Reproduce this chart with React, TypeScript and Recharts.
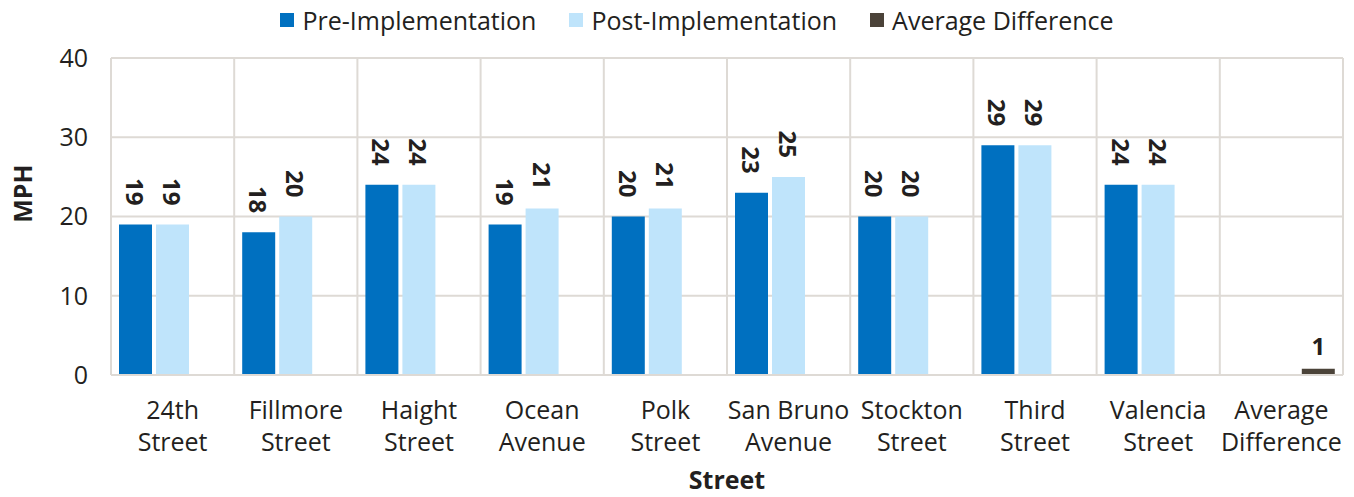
import { BarChart, Bar, XAxis, YAxis, CartesianGrid, Legend, LabelList, Label } from 'recharts';

const streets = [
  '24th Street',
  'Fillmore Street',
  'Haight Street',
  'Ocean Avenue',
  'Polk Street',
  'San Bruno Avenue',
  'Stockton Street',
  'Third Street',
  'Valencia Street',
  'Average Difference',
];
const preValues = [19, 18, 24, 19, 20, 23, 20, 29, 24, null];
const postValues = [19, 20, 24, 21, 21, 25, 20, 29, 24, null];
const avgDiffValues = [null, null, null, null, null, null, null, null, null, 0.78];
const yTicks = [0, 10, 20, 30, 40];

const seriesNames = ['Pre-Implementation', 'Post-Implementation', 'Average Difference'];

const COLORS = {
  pre: '#0070C0',
  post: '#BFE4FB',
  avg: '#4B4339',
  grid: '#DEDAD5',
  text: '#231F20',
};

const FONT = '"Open Sans", "Noto Sans", sans-serif';

const data = streets.map((name, i) => ({
  name,
  pre: preValues[i],
  post: postValues[i],
  avg: avgDiffValues[i],
}));

function StreetTick(props: any) {
  const { x, y, payload } = props;
  const words = String(payload.value).split(' ');
  const first = words.slice(0, words.length - 1).join(' ');
  const second = words[words.length - 1];
  return (
    <text x={x} y={y} textAnchor="middle" fill={COLORS.text} fontSize={25} fontFamily={FONT}>
      <tspan x={x} dy={36}>{first}</tspan>
      <tspan x={x} dy={32}>{second}</tspan>
    </text>
  );
}

function RotatedLabel(props: any) {
  const { x, y, width, value } = props;
  if (value == null) return null;
  const cx = x + width / 2;
  const cy = y - 19;
  return (
    <text
      x={cx}
      y={cy}
      transform={`rotate(90 ${cx} ${cy})`}
      textAnchor="end"
      dominantBaseline="central"
      fill={COLORS.text}
      fontSize={24}
      fontWeight={700}
      fontFamily={FONT}
    >
      {Math.round(value)}
    </text>
  );
}

function FlatLabel(props: any) {
  const { x, y, width, value } = props;
  if (value == null) return null;
  return (
    <text
      x={x + width / 2}
      y={y - 14}
      textAnchor="middle"
      fill={COLORS.text}
      fontSize={24}
      fontWeight={700}
      fontFamily={FONT}
    >
      {Math.round(value)}
    </text>
  );
}

function LegendContent() {
  const colors = [COLORS.pre, COLORS.post, COLORS.avg];
  return (
    <div style={{ display: 'flex', justifyContent: 'center', gap: 33, fontFamily: FONT, fontSize: 25, lineHeight: '30px', color: COLORS.text, paddingLeft: 40 }}>
      {seriesNames.map((n, i) => (
        <div key={n} style={{ display: 'flex', alignItems: 'center' }}>
          <span style={{ display: 'inline-block', width: 14, height: 14, background: colors[i], marginRight: 8 }} />
          <span>{n}</span>
        </div>
      ))}
    </div>
  );
}

export default function App() {
  return (
    <div style={{ position: 'absolute', left: 0, top: 0, background: '#fff' }}>
      <BarChart
        width={1354}
        height={497}
        data={data}
        margin={{ top: 58, right: 11, bottom: 0, left: 0 }}
        barSize={33}
        barGap={4}
      >
        <CartesianGrid
          stroke={COLORS.grid}
          strokeWidth={2}
          verticalCoordinatesGenerator={({ offset }: any) =>
            streets.map((_, i) => offset.left + (i * offset.width) / streets.length).concat(offset.left + offset.width)
          }
        />
        <XAxis
          dataKey="name"
          interval={0}
          tick={<StreetTick />}
          tickLine={false}
          axisLine={{ stroke: COLORS.grid, strokeWidth: 2 }}
          height={122}
        >
          <Label
            value="Street"
            position="insideBottom"
            offset={8}
            fill={COLORS.text}
            fontSize={25}
            fontWeight={700}
            fontFamily={FONT}
          />
        </XAxis>
        <YAxis
          domain={[0, 40]}
          ticks={yTicks}
          width={111}
          axisLine={false}
          tickLine={false}
          tickSize={0}
          tickMargin={23}
          tick={{ fill: COLORS.text, fontSize: 25, fontFamily: FONT }}
        >
          <Label
            content={({ viewBox }: any) => {
              const lx = viewBox.x + 22;
              const ly = viewBox.y + viewBox.height / 2 - 23;
              return (
                <text
                  x={lx}
                  y={ly}
                  transform={`rotate(-90 ${lx} ${ly})`}
                  textAnchor="middle"
                  dominantBaseline="central"
                  fill={COLORS.text}
                  fontSize={25}
                  fontWeight={700}
                  fontFamily={FONT}
                >
                  MPH
                </text>
              );
            }}
          />
        </YAxis>
        <Legend
          layout="horizontal"
          verticalAlign="middle"
          align="center"
          content={<LegendContent />}
          wrapperStyle={{ top: 5, left: 0, width: 1354 }}
        />
        <Bar dataKey="pre" name={seriesNames[0]} fill={COLORS.pre} isAnimationActive={false}>
          <LabelList dataKey="pre" content={<RotatedLabel />} />
        </Bar>
        <Bar dataKey="post" name={seriesNames[1]} fill={COLORS.post} isAnimationActive={false}>
          <LabelList dataKey="post" content={<RotatedLabel />} />
        </Bar>
        <Bar dataKey="avg" name={seriesNames[2]} fill={COLORS.avg} isAnimationActive={false}>
          <LabelList dataKey="avg" content={<FlatLabel />} />
        </Bar>
      </BarChart>
    </div>
  );
}
